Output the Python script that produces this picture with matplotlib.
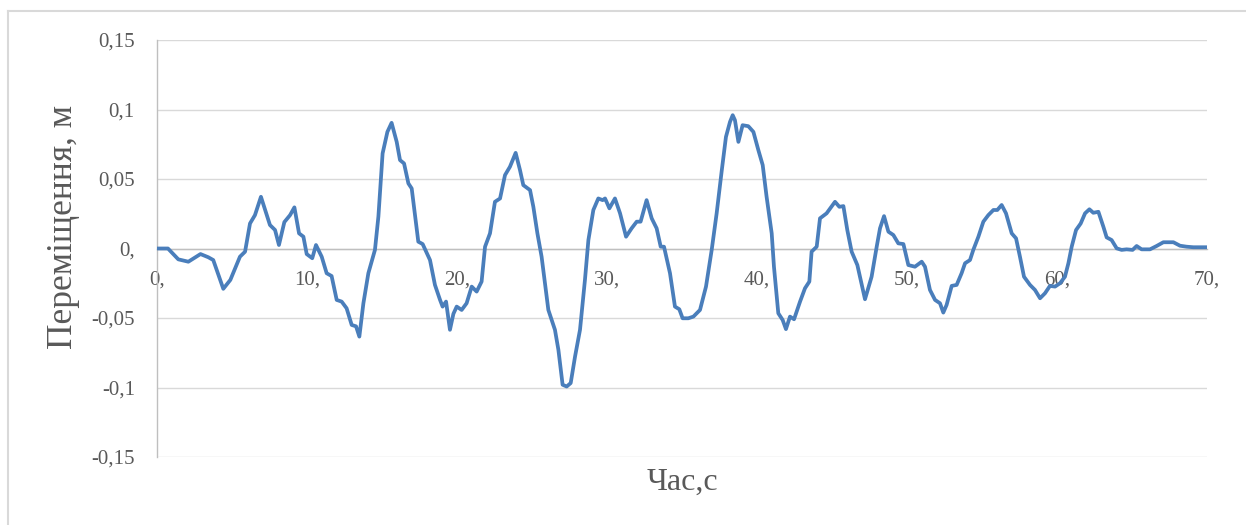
import matplotlib
matplotlib.use("Agg")
import matplotlib.pyplot as plt
from matplotlib.lines import Line2D
from matplotlib.ticker import FixedLocator, FixedFormatter

# Time, s
time_s = [
    0.0, 0.73, 1.42, 2.09, 2.9, 3.42, 3.75, 4.42, 4.89, 5.53, 5.87, 6.2, 6.53, 6.93,
    7.53, 7.87, 8.13, 8.49, 8.87, 9.16, 9.47, 9.76, 9.98, 10.35, 10.6, 10.98, 11.31,
    11.64, 11.98, 12.31, 12.64, 12.98, 13.27, 13.49, 13.76, 14.09, 14.53, 14.76, 15.04,
    15.36, 15.64, 15.98, 16.2, 16.47, 16.76, 16.98, 17.42, 17.71, 18.2, 18.53, 18.87,
    19.04, 19.27, 19.53, 19.76, 19.98, 20.31, 20.64, 20.98, 21.31, 21.64, 21.87, 22.2,
    22.53, 22.87, 23.2, 23.53, 23.91, 24.2, 24.42, 24.87, 25.09, 25.36, 25.64, 26.09,
    26.53, 26.76, 27.04, 27.31, 27.58, 27.87, 28.2, 28.53, 28.76, 29.09, 29.42, 29.71,
    29.87, 30.16, 30.53, 30.87, 31.27, 31.64, 31.98, 32.24, 32.64, 32.98, 33.31, 33.58,
    33.8, 34.2, 34.53, 34.82, 35.04, 35.42, 35.76, 36.2, 36.6, 36.98, 37.31, 37.64,
    37.93, 38.2, 38.38, 38.53, 38.76, 39.04, 39.42, 39.76, 40.09, 40.38, 40.64, 40.98,
    41.13, 41.42, 41.71, 41.93, 42.2, 42.47, 42.87, 43.2, 43.49, 43.64, 43.98, 44.2,
    44.64, 45.2, 45.49, 45.76, 46.02, 46.31, 46.69, 47.2, 47.64, 47.98, 48.2, 48.47,
    48.76, 49.09, 49.42, 49.76, 50.09, 50.53, 50.98, 51.2, 51.53, 51.87, 52.2, 52.42,
    52.64, 52.98, 53.31, 53.64, 53.87, 54.2, 54.42, 54.76, 55.09, 55.42, 55.76, 56.02,
    56.31, 56.6, 56.98, 57.27, 57.53, 57.8, 58.2, 58.53, 58.87, 59.2, 59.53, 59.87,
    60.2, 60.53, 60.76, 60.98, 61.27, 61.58, 61.87, 62.16, 62.42, 62.76, 63.09, 63.31,
    63.64, 63.98, 64.31, 64.64, 65.04, 65.31, 65.64, 66.2, 66.64, 67.09, 67.76, 68.2,
    68.64, 69.09, 70.0,
]

# Displacement, m
displacement_m = [
    0.0, 0.0, -0.0078, -0.0095, -0.004, -0.0063, -0.0083, -0.029, -0.0226, -0.0059,
    -0.0023, 0.018, 0.024, 0.0372, 0.0169, 0.0133, 0.0025, 0.019, 0.024, 0.0296,
    0.0109, 0.0085, -0.004, -0.007, 0.0025, -0.0059, -0.0178, -0.0198, -0.037,
    -0.0382, -0.043, -0.055, -0.056, -0.0634, -0.0394, -0.0178, -0.001, 0.023, 0.0684,
    0.0839, 0.0904, 0.0767, 0.0636, 0.0612, 0.0468, 0.0432, 0.0049, 0.0032, -0.0083,
    -0.0262, -0.037, -0.0418, -0.0382, -0.0585, -0.047, -0.0418, -0.0442, -0.0394,
    -0.0274, -0.031, -0.0238, 0.0013, 0.0109, 0.0336, 0.036, 0.0528, 0.0588, 0.0688,
    0.0564, 0.0456, 0.042, 0.03, 0.0109, -0.0059, -0.0442, -0.0585, -0.0729, -0.098,
    -0.0993, -0.0968, -0.0777, -0.0585, -0.0226, 0.0061, 0.0277, 0.036, 0.0348, 0.036,
    0.0289, 0.036, 0.0253, 0.0085, 0.0145, 0.0193, 0.0193, 0.0348, 0.0217, 0.0145,
    0.0013, 0.0013, -0.0178, -0.0418, -0.0437, -0.0502, -0.0502, -0.049, -0.0442,
    -0.0274, -0.001, 0.0253, 0.0552, 0.0803, 0.0911, 0.0959, 0.0923, 0.0767, 0.0887,
    0.088, 0.0839, 0.0708, 0.06, 0.0372, 0.0109, -0.0131, -0.0466, -0.0514, -0.058,
    -0.049, -0.0509, -0.0382, -0.0286, -0.0238, -0.0023, 0.0013, 0.0217, 0.0253,
    0.0336, 0.03, 0.0305, 0.0133, -0.0023, -0.0119, -0.0365, -0.0203, 0.0013, 0.0145,
    0.0233, 0.0121, 0.0097, 0.0037, 0.0032, -0.0119, -0.0131, -0.0095, -0.0131,
    -0.0298, -0.037, -0.0394, -0.0461, -0.0406, -0.0269, -0.0262, -0.0178, -0.0106,
    -0.0083, -0.001, 0.0085, 0.0193, 0.024, 0.0277, 0.0277, 0.0313, 0.0253, 0.0109,
    0.0073, -0.0059, -0.0203, -0.0262, -0.0298, -0.0358, -0.0322, -0.0269, -0.0274,
    -0.025, -0.0203, -0.0106, 0.0013, 0.0133, 0.018, 0.0253, 0.0282, 0.0257, 0.0264,
    0.0157, 0.008, 0.0061, 0.0001, -0.001, -0.0006, -0.001, 0.0018, -0.0006, -0.0006,
    0.0018, 0.0045, 0.0045, 0.002, 0.0013, 0.0009, 0.0009,
]

y_ticks = [-0.15, -0.1, -0.05, 0.0, 0.05, 0.1, 0.15]
y_tick_labels = ["-0,15", "-0,1", "-0,05", "0,", "0,05", "0,1", "0,15"]
x_ticks = [0, 10, 20, 30, 40, 50, 60, 70]
x_tick_labels = ["0,", "10,", "20,", "30,", "40,", "50,", "60,", "70,"]

plt.rcParams["font.family"] = ["Liberation Serif", "DejaVu Serif"]

W, H = 1246, 525
fig = plt.figure(figsize=(W / 100, H / 100), dpi=100)

# Chart area frame (top and left edges visible)
frame_color = "#d9d9d9"
fig.add_artist(Line2D([8 / W, 1.0], [1 - 10.5 / H, 1 - 10.5 / H],
                      transform=fig.transFigure, color=frame_color, lw=1.5))
fig.add_artist(Line2D([8 / W, 8 / W], [1 - 10.5 / H, 0.0],
                      transform=fig.transFigure, color=frame_color, lw=1.5))

ax = fig.add_axes([157 / W, 1 - 457 / H, (1207 - 157) / W, (457 - 40) / H])

ax.plot(time_s, displacement_m, color="#4a7ebb", lw=2.7,
        solid_joinstyle="round", solid_capstyle="round", zorder=3)

ax.set_xlim(0, 70)
ax.set_ylim(-0.15, 0.15)

ax.yaxis.set_major_locator(FixedLocator(y_ticks))
ax.yaxis.set_major_formatter(FixedFormatter(y_tick_labels))
ax.xaxis.set_major_locator(FixedLocator(x_ticks))
ax.xaxis.set_major_formatter(FixedFormatter(x_tick_labels))

ax.grid(axis="y", color="#d9d9d9", lw=1.0, zorder=0)
ax.set_axisbelow(True)

for side in ("top", "right"):
    ax.spines[side].set_visible(False)
ax.spines["bottom"].set_position(("data", 0))
ax.spines["bottom"].set_color("#bfbfbf")
ax.spines["bottom"].set_linewidth(1.0)
ax.spines["left"].set_color("#bfbfbf")
ax.spines["left"].set_linewidth(1.0)

ax.tick_params(axis="both", length=0, labelsize=15, labelcolor="#595959")
ax.tick_params(axis="y", pad=16)
ax.tick_params(axis="x", pad=16)

fig.text(682 / W, 1 - 482 / H, "Час,с", ha="center", va="center",
         fontsize=23, color="#595959")
fig.text(63 / W, 1 - 227 / H, "Переміщення, м", ha="center", va="center",
         rotation=90, fontsize=25.5, color="#595959")

fig.savefig("out.png", dpi=100, facecolor="white")
